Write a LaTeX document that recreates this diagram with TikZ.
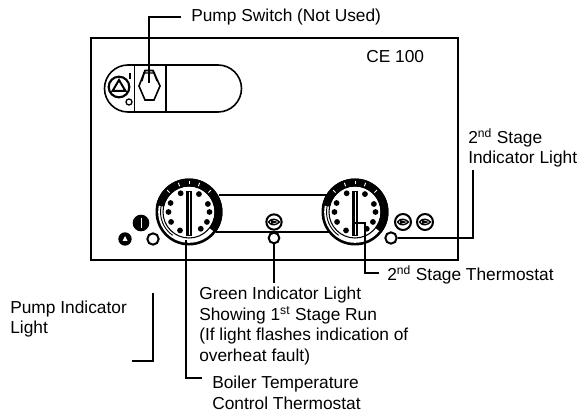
\documentclass[tikz,border=0pt]{standalone}
\usepackage{fontspec}
\setmainfont{Liberation Sans}
\newcommand{\dialface}{%
  \fill (0,0) circle (33.5);
  \fill[white] (0,0) circle (30.8);
  \fill (0,0) -- (-38:33.5) arc (-38:168:33.5) -- cycle;
  \fill[white] (0,0) circle (25.5);
  \draw[line width=.8pt] (0,0) circle (26);
  \draw[line width=.7pt] (168:28.5) arc (168:235:28.5);
  \foreach \a in {45,70,90,110,135} \draw[white,line width=.7pt] (\a:27.5) -- (\a:31);
  \foreach \a in {114,61,23,0,-29,-55,-116,-151,180,154} \fill (\a:20.5) circle (2.9);
  \fill (-2.7,21) rectangle (2.7,-24.5);
  \fill[white] (-.5,20) rectangle (.5,-23.5);
}
\newcommand{\lampeye}[1]{%
  \draw[line width=1pt] (#1) ++(-5.5,0) .. controls +(3,-4.5) and +(-3,-3) .. ++(11,0) .. controls +(-3,3) and +(3,4.5) .. ++(-11,0) -- cycle;
  \fill (#1) ++(-3,-2.2) -- ++(7,2.2) -- ++(-7,2.2) -- cycle;
}
\begin{document}
\begin{tikzpicture}[x=0.75pt,y=-0.75pt,
  lbl/.style={inner sep=0pt,anchor=west,font=\fontsize{13pt}{15.3pt}\selectfont,align=left},
  wire/.style={line width=1.4pt,line join=miter},
  thick1/.style={line width=1.2pt},
  lamp/.style={circle,draw,line width=1.5pt,minimum size=#1,inner sep=0pt}]
\useasboundingbox (0,0) rectangle (578,413);
% panel
\draw[line width=1pt] (91,260) -- (91,38) -- (458,38) -- (458,260) -- cycle;
% pump oval
\draw[thick1] (128,65) -- (218,65) arc (-90:90:23.5) -- (128,112) arc (90:270:23.5);
\draw[line width=.4pt] (134,65) -- (134,112);
\draw[thick1] (166,65) -- (166,112);
% pump symbol
\node[lamp=15.5pt,line width=1.6pt] (pumpsym) at (119,87) {};
\draw[line width=1.5pt] (112.5,91) -- (119,80) -- (125.5,91) -- cycle;
\node[lamp=4.5pt,line width=1pt] (pumpdot) at (129,102) {};
\draw[line width=1.2pt] (130,73) -- (130,79);
% switch
\draw[line width=1.2pt] (145,70.5) -- (153,70.5) -- (160,86) -- (154,100) -- (145,100) -- (139,86) -- cycle;
\draw[line width=1pt] (145,70.5) -- (142,81) (153,70.5) -- (157,81) (143,73) -- (155,73);
% dial 1
\node[circle,minimum size=50pt,inner sep=0pt] (dialA) at (189,212) {};
\begin{scope}[shift={(189,212)},yscale=-1]\dialface\end{scope}
% dial 2
\node[circle,minimum size=50pt,inner sep=0pt] (dialB) at (355,212) {};
\begin{scope}[shift={(355,212)},yscale=-1]\dialface\end{scope}
% bar between dials
\draw[wire] (219,195) -- (327,195);
\draw[wire] (216,232) -- (329,232);
% lamps
\node[circle,fill,minimum size=12.5pt,inner sep=0pt] (lampBlack) at (141,223) {};
\draw[white,line width=.7pt] (141,218) -- (141,228);
\node[circle,fill,minimum size=10pt,inner sep=0pt] (lampTri) at (125,239) {};
\fill[white] (122.5,241) -- (125,236) -- (127.5,241) -- cycle;
\node[lamp=8.5pt] (lampOpen) at (153,239) {};
\node[lamp=11.5pt] (lampMid) at (274,222) {};
\lampeye{274,222}
\node[lamp=8pt] (greenLamp) at (274,238) {};
\node[lamp=12pt] (lampR1) at (403,222) {};
\lampeye{403,222}
\node[lamp=12pt] (lampR2) at (425,222) {};
\lampeye{425,222}
\node[lamp=8.5pt] (stageLamp) at (391,238) {};
% labels
\node[lbl] (pumpSwitch) at (191,17) {Pump Switch (Not Used)};
\node[lbl] (ce) at (366,57) {CE 100};
\node[lbl] (stageLight) at (468,148) {2\textsuperscript{nd} Stage\\Indicator Light};
\node[lbl] (stageThermo) at (387,275) {2\textsuperscript{nd} Stage Thermostat};
\node[lbl] (pumpLight) at (10,319) {Pump Indicator\\Light};
\node[lbl] (greenText) at (199,326) {Green Indicator Light\\Showing 1\textsuperscript{st} Stage Run\\(If light flashes indication of\\overheat fault)};
\node[lbl] (boiler) at (212,393) {Boiler Temperature\\Control Thermostat};
% leaders
\coordinate (switchEnd) at (149,83);
\coordinate (switchTurn) at (181,17);
\coordinate (pumpEnd1) at (153,293);
\coordinate (pumpEnd2) at (132,361);
\coordinate (stageEnd) at (473,170);
\coordinate (thermoStart) at (355,223);
\coordinate (thermoTurn) at (365,223);
\coordinate (thermoEnd) at (379,273);
\coordinate (boilerStart) at (186,240);
\coordinate (boilerEnd) at (202,378);
\coordinate (greenEnd) at (274,283);
\draw[wire] (switchEnd) |- (switchTurn);
\draw[wire] (stageLamp.east) -| (stageEnd);
\draw[wire] (greenLamp.south) -- (greenEnd);
\draw[wire] (thermoStart) -- (thermoTurn) |- (thermoEnd);
\draw[wire] (boilerStart) |- (boilerEnd);
\draw[wire] (pumpEnd1) |- (pumpEnd2);
\end{tikzpicture}
\end{document}
